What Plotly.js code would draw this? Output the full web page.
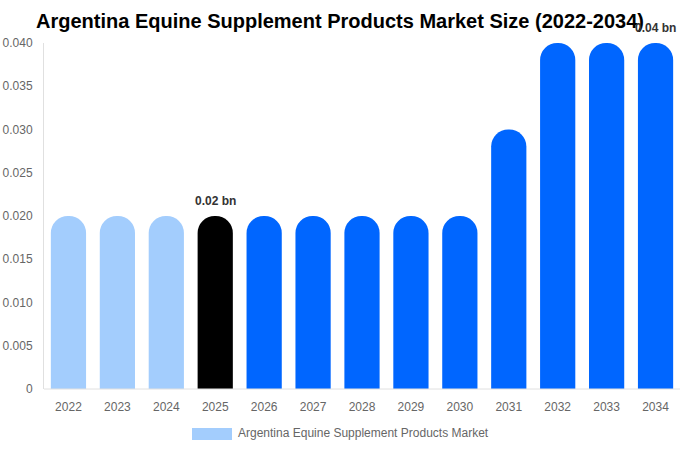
<!DOCTYPE html>
<html>
<head>
<meta charset="utf-8">
<script src="https://cdn.plot.ly/plotly-3.0.1.min.js"></script>
<style>
  body { margin: 0; background: #fff; }
  #chart { width: 680px; height: 450px; }
</style>
</head>
<body>
<div id="chart"></div>
<script>
// data
var years = ['2022', '2023', '2024', '2025', '2026', '2027', '2028', '2029', '2030', '2031', '2032', '2033', '2034'];
var marketSize = [0.02, 0.02, 0.02, 0.02, 0.02, 0.02, 0.02, 0.02, 0.02, 0.03, 0.04, 0.04, 0.04];
var barColors = ['#a3cdfd', '#a3cdfd', '#a3cdfd', '#000000', '#0066ff', '#0066ff', '#0066ff',
                 '#0066ff', '#0066ff', '#0066ff', '#0066ff', '#0066ff', '#0066ff'];
var yTicks = [0, 0.005, 0.01, 0.015, 0.02, 0.025, 0.03, 0.035, 0.04];
var yTickText = ['0', '0.005', '0.010', '0.015', '0.020', '0.025', '0.030', '0.035', '0.040'];
var labelled = [{ year: '2025', value: 0.02, text: '0.02 bn' }, { year: '2034', value: 0.04, text: '0.04 bn' }];
var seriesName = 'Argentina Equine Supplement Products Market';

var W = 680, H = 450, ml = 44, mr = 0, mt = 43, mb = 61;
var pw = W - ml - mr, ph = H - mt - mb;
// pixel -> paper helpers for the hand-made legend
function px(x) { return (x - ml) / pw; }
function py(y) { return (H - mb - y) / ph; }

var trace = {
    x: years,
    y: marketSize,
    type: 'bar',
    name: seriesName,
    marker: { color: barColors, cornerradius: '50%' },
    hoverinfo: 'x+y',
    showlegend: false
};

var notes = labelled.map(function (d) {
    return {
        x: years.indexOf(d.year), y: d.value, text: '<b>' + d.text + '</b>',
        showarrow: false, yanchor: 'bottom', yshift: 6,
        font: { size: 12, color: '#333' }
    };
});
notes.push({
    xref: 'paper', yref: 'paper', x: px(236), y: py(433),
    xanchor: 'left', yanchor: 'middle', showarrow: false, text: seriesName,
    font: { size: 12, color: '#666' }
});

var layout = {
    width: W, height: H,
    margin: { l: ml, r: mr, t: mt, b: mb },
    paper_bgcolor: '#fff', plot_bgcolor: '#fff',
    font: { family: 'Liberation Sans, Arial, sans-serif', color: '#666', size: 12 },
    title: {
        text: '<b>Argentina Equine Supplement Products Market Size (2022-2034)</b>',
        font: { size: 20, color: '#000' },
        x: 0.5, xref: 'container', xanchor: 'center',
        y: 1 - 21 / H, yref: 'container', yanchor: 'middle'
    },
    bargap: 0.28,
    xaxis: {
        type: 'category', range: [-0.5, years.length - 0.5],
        showgrid: false, zeroline: false, showline: false, ticks: '',
        ticklabelstandoff: 9,
        tickfont: { color: '#666', size: 12 }
    },
    yaxis: {
        range: [0, 0.04], tickvals: yTicks, ticktext: yTickText,
        showgrid: false, zeroline: false, showline: true, linecolor: '#e0e0e0', linewidth: 1,
        ticks: '', ticklabelstandoff: 8,
        tickfont: { color: '#666', size: 12 }
    },
    shapes: [
        { type: 'line', xref: 'paper', yref: 'paper', x0: 0, x1: 1, y0: 0, y1: 0,
          line: { color: '#e0e0e0', width: 1 } },
        { type: 'rect', xref: 'paper', yref: 'paper',
          x0: px(192), x1: px(232), y0: py(440), y1: py(428),
          fillcolor: '#a3cdfd', line: { width: 0 } }
    ],
    annotations: notes
};

Plotly.newPlot('chart', [trace], layout, { displayModeBar: false });
</script>
</body>
</html>
